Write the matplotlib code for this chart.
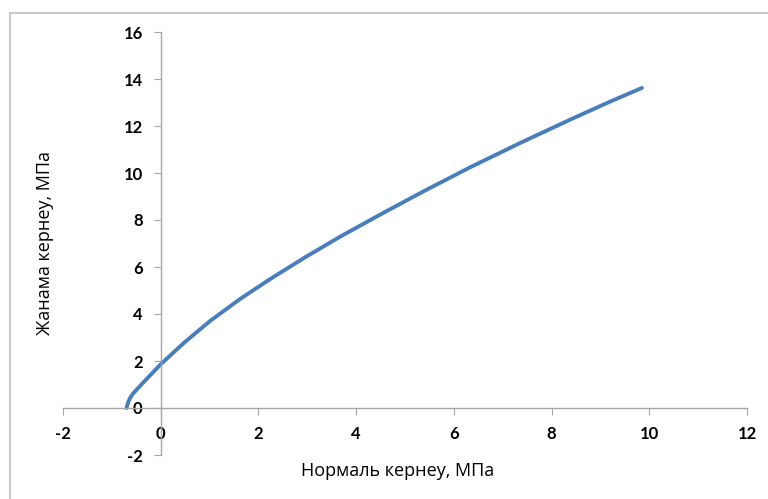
"""Shear stress vs normal stress curve (Excel-style chart)."""

import matplotlib
matplotlib.use("Agg")
import matplotlib.pyplot as plt
from matplotlib.lines import Line2D
from matplotlib.ticker import FuncFormatter

# values
normal_stress = [-0.70, -0.66, -0.62, -0.56, -0.35, 0.0, 0.48, 1.02, 1.64,
                 2.25, 2.93, 3.68, 4.50, 5.38, 6.34, 7.36, 8.38, 9.20, 9.85]
shear_stress = [0.0, 0.28, 0.45, 0.63, 1.10, 1.86, 2.78, 3.72, 4.66,
                5.50, 6.38, 7.30, 8.24, 9.22, 10.25, 11.28, 12.27, 13.04, 13.62]

x_ticks = [-2, 0, 2, 4, 6, 8, 10, 12]
y_ticks = [-2, 0, 2, 4, 6, 8, 10, 12, 14, 16]

x_label = "Нормаль кернеу, МПа"
y_label = "Жанама кернеу, МПа"

plt.rcParams["font.family"] = ["Lato", "DejaVu Sans"]
plt.rcParams["axes.unicode_minus"] = False

W, H = 768, 499
fig = plt.figure(figsize=(W / 100, H / 100), dpi=100)
ax = fig.add_axes([63 / W, (H - 455) / H, 684 / W, 423 / H])

ax.plot(normal_stress, shear_stress, color="#4A7EBB", lw=2.8,
        solid_capstyle="round", solid_joinstyle="round")

ax.set_xlim(-2, 12)
ax.set_ylim(-2, 16)
ax.set_xticks(x_ticks)
ax.set_yticks(y_ticks)
fmt = FuncFormatter(lambda v, _: f"{v:g}")
ax.xaxis.set_major_formatter(fmt)
ax.yaxis.set_major_formatter(fmt)

ax.spines["left"].set_position(("data", 0))
ax.spines["bottom"].set_position(("data", 0))
ax.spines["top"].set_visible(False)
ax.spines["right"].set_visible(False)
for side in ("left", "bottom"):
    ax.spines[side].set_color("#A6A6A6")
    ax.spines[side].set_linewidth(1.0)

ax.tick_params(axis="x", direction="out", length=5, color="#A6A6A6", pad=8)
ax.tick_params(axis="y", direction="out", length=5, color="#A6A6A6", pad=8)
for lbl in ax.get_xticklabels() + ax.get_yticklabels():
    lbl.set_fontsize(12)
    lbl.set_fontweight("bold")
    lbl.set_color("black")

fig.text(398 / W, 1 - 471 / H, x_label, ha="center", va="center", fontsize=13,
         family=["Open Sans", "DejaVu Sans"])
fig.text(45 / W, 1 - 243 / H, y_label, ha="center", va="center", fontsize=13,
         rotation=90, family=["Open Sans", "DejaVu Sans"])

# outer chart-area border (only top and left edges visible in crop)
fig.add_artist(Line2D([9.5 / W, 9.5 / W], [0, 1 - 13 / H],
                      transform=fig.transFigure, color="#BFBFBF", lw=1.2))
fig.add_artist(Line2D([9.5 / W, 1], [1 - 13 / H, 1 - 13 / H],
                      transform=fig.transFigure, color="#BFBFBF", lw=1.2))

fig.savefig("out.png", dpi=100)
